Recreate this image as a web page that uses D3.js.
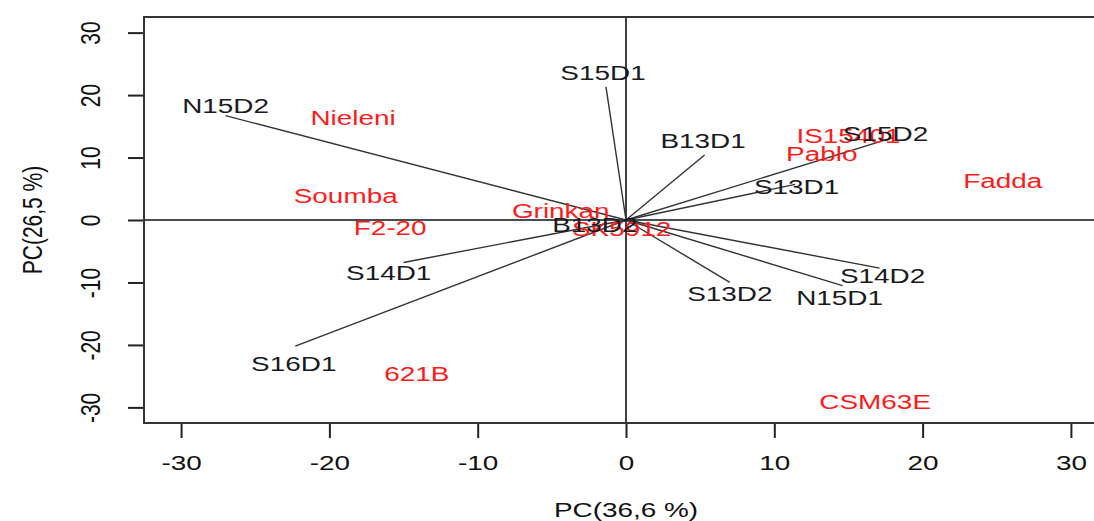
<!DOCTYPE html>
<html>
<head>
<meta charset="utf-8">
<script src="https://cdn.jsdelivr.net/npm/d3@7"></script>
<style>
  html, body { margin: 0; padding: 0; background: #fff; }
  svg { display: block; }
  text { font-family: "Liberation Sans", Arial, sans-serif; }
</style>
</head>
<body>
<svg id="chart"></svg>
<script>
// variables (arrows, black)
const varNames = ["N15D2", "S15D1", "B13D1", "S15D2", "S13D1", "B13D2", "S14D2", "N15D1", "S13D2", "S14D1", "S16D1"];
const varX = [-27.0, -1.35, 5.3, 18.0, 11.4, 0.8, 17.1, 14.6, 7.0, -15.0, -22.3];
const varY = [16.7, 21.3, 10.4, 13.2, 5.7, -0.3, -7.7, -10.5, -10.0, -6.8, -20.2];
const varLabX = [-27.0, -1.55, 5.2, 17.5, 11.5, -2.1, 17.3, 14.4, 7.0, -16.0, -22.4];
const varLabY = [18.3, 23.7, 12.8, 13.9, 5.4, -0.7, -8.9, -12.4, -11.7, -8.4, -22.9];

// individuals (red labels)
const indNames = ["Nieleni", "Soumba", "F2-20", "621B", "Grinkan", "SK5912", "Pablo", "IS15401", "Fadda", "CSM63E"];
const indX = [-18.4, -18.9, -15.9, -14.1, -4.4, -0.3, 13.2, 15.0, 25.4, 16.8];
const indY = [16.5, 3.9, -1.2, -24.5, 1.5, -1.4, 10.7, 13.6, 6.3, -29.1];

const xTicks = [-30, -20, -10, 0, 10, 20, 30];
const yTicks = [-30, -20, -10, 0, 10, 20, 30];
const xTitle = "PC(36,6 %)";
const yTitle = "PC(26,5 %)";

const W = 1094, H = 521;
const margin = { left: 144, top: 17, bottom: 423, right: 1108 };
const sx = 1.33; // the picture is stretched horizontally
const fs = 21;

const svg = d3.select("#chart").attr("width", W).attr("height", H);

const x = d3.scaleLinear().domain([-32.5, 32.5]).range([margin.left, margin.right]);
const y = d3.scaleLinear().domain([-32.5, 32.5]).range([margin.bottom, margin.top]);

// plain hyphen for negatives, like R
const fmt = d => String(d);

//оси
const gx = svg.append("g")
    .attr("transform", `translate(0,${margin.bottom})`)
    .call(d3.axisBottom(x).tickValues(xTicks).tickSize(15).tickFormat(fmt));
gx.select(".domain").remove();
gx.selectAll("line").attr("stroke", "#222").attr("stroke-width", 2);
gx.selectAll("text")
    .attr("y", 0).attr("dy", 0)
    .attr("transform", `translate(0,47) scale(${sx},1)`)
    .attr("fill", "#111")
    .style("font-size", fs + "px");

const gy = svg.append("g")
    .attr("transform", `translate(${margin.left},0)`)
    .call(d3.axisLeft(y).tickValues(yTicks).tickSize(16).tickFormat(fmt));
gy.select(".domain").remove();
gy.selectAll("line").attr("stroke", "#222").attr("stroke-width", 2);
gy.selectAll("text")
    .attr("x", 0).attr("y", 0).attr("dy", 0)
    .attr("text-anchor", "middle")
    .attr("transform", `translate(-44,0) scale(${sx},1) rotate(-90)`)
    .attr("fill", "#111")
    .style("font-size", fs + "px");

//подписи осей
svg.append("text")
    .attr("transform", `translate(${x(0)},517) scale(${sx},1)`)
    .attr("text-anchor", "middle")
    .attr("fill", "#111")
    .style("font-size", fs + "px")
    .text(xTitle);

svg.append("text")
    .attr("transform", `translate(42,${y(0)}) scale(${sx},1) rotate(-90)`)
    .attr("text-anchor", "middle")
    .attr("fill", "#111")
    .style("font-size", fs + "px")
    .text(yTitle);

const plot = svg.append("g");

//нулевые линии
plot.append("line")
    .attr("x1", x(0)).attr("x2", x(0))
    .attr("y1", margin.top).attr("y2", margin.bottom)
    .attr("stroke", "#111").attr("stroke-width", 1.6);
plot.append("line")
    .attr("x1", margin.left).attr("x2", margin.right)
    .attr("y1", y(0)).attr("y2", y(0))
    .attr("stroke", "#111").attr("stroke-width", 1.6);

//стрелки
const vars = varNames.map((n, i) => ({ name: n, x: varX[i], y: varY[i], lx: varLabX[i], ly: varLabY[i] }));
plot.selectAll(".arrow")
    .data(vars)
    .enter()
    .append("line")
    .attr("class", "arrow")
    .attr("x1", x(0)).attr("y1", y(0))
    .attr("x2", d => x(d.x)).attr("y2", d => y(d.y))
    .attr("stroke", "#333")
    .attr("stroke-width", 1.4);

//подписи индивидов
const inds = indNames.map((n, i) => ({ name: n, x: indX[i], y: indY[i] }));
plot.selectAll(".ind")
    .data(inds)
    .enter()
    .append("text")
    .attr("class", "ind")
    .attr("transform", d => `translate(${x(d.x)},${y(d.y)}) scale(${sx},1)`)
    .attr("dy", "0.36em")
    .attr("text-anchor", "middle")
    .attr("fill", "#ff1a1a")
    .style("font-size", fs + "px")
    .text(d => d.name);

//подписи переменных
plot.selectAll(".var")
    .data(vars)
    .enter()
    .append("text")
    .attr("class", "var")
    .attr("transform", d => `translate(${x(d.lx)},${y(d.ly)}) scale(${sx},1)`)
    .attr("dy", "0.36em")
    .attr("text-anchor", "middle")
    .attr("fill", "#1a1a22")
    .style("font-size", fs + "px")
    .text(d => d.name);

//рамка
svg.append("rect")
    .attr("x", margin.left).attr("y", margin.top)
    .attr("width", margin.right - margin.left).attr("height", margin.bottom - margin.top)
    .attr("fill", "none")
    .attr("stroke", "#333")
    .attr("stroke-width", 2);
</script>
</body>
</html>
